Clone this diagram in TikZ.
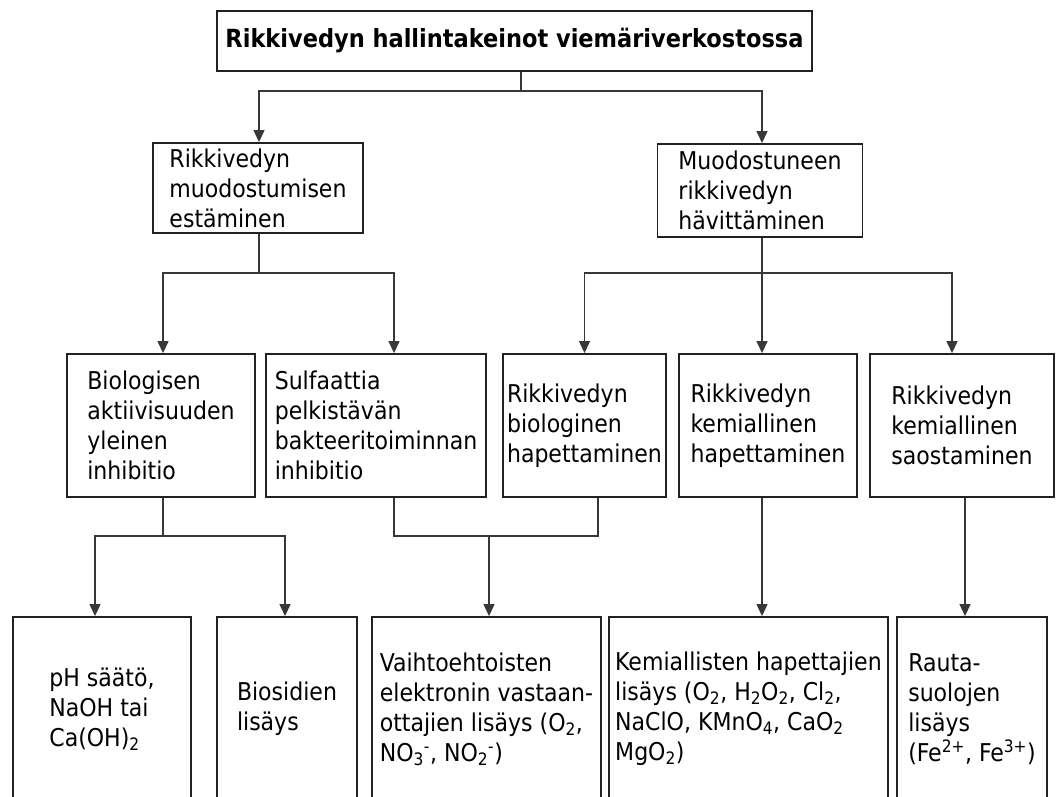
\documentclass[tikz,border=0pt]{standalone}
\usepackage{fontspec}
\setmainfont{DejaVu Sans Condensed}
\usetikzlibrary{arrows.meta}
\definecolor{boxline}{HTML}{222222}
\definecolor{linkline}{HTML}{383838}
\tikzset{
  box/.style={draw=boxline, line width=1.9pt, align=left, inner sep=0pt},
  link/.style={draw=linkline, line width=1.3pt},
  arr/.style={link, -{Triangle[width=11pt,length=12pt]}},
}
\newcommand\chemion[2]{\textsubscript{#1}\textsuperscript{#2}}

\begin{document}
\begin{tikzpicture}[x=1pt, y=-1pt, font=\fontsize{24.5}{30}\selectfont]
    \clip (0,0) rectangle (1056,796);
    \fill[white] (0,0) rectangle (1056,796);

    \node[box, minimum width=595pt, minimum height=60pt, font=\fontsize{25}{30}\selectfont\bfseries] (title) at (514.5,41) {Rikkivedyn hallintakeinot viemäriverkostossa};

    % level 2
    \node[box, minimum width=210pt, minimum height=90pt] (prevent) at (258,188) {Rikkivedyn\\muodostumisen\\estäminen};
    \node[box, minimum width=205pt, minimum height=93pt] (remove) at (760,190.5) {Muodostuneen\\rikkivedyn\\hävittäminen};

    % level 3
    \node[box, minimum width=188pt, minimum height=143pt] (general) at (161,425.5) {Biologisen\\aktiivisuuden\\yleinen\\inhibitio};
    \node[box, minimum width=220pt, minimum height=143pt] (sulfate) at (376,425.5) {Sulfaattia\\pelkistävän\\bakteeritoiminnan\\inhibitio};
    \node[box, minimum width=163pt, minimum height=143pt] (bioox) at (584.5,425.5) {Rikkivedyn\\biologinen\\hapettaminen};
    \node[box, minimum width=178pt, minimum height=143pt] (chemox) at (768,425.5) {Rikkivedyn\\kemiallinen\\hapettaminen};
    \node[box, minimum width=184pt, minimum height=143pt] (precip) at (962,425.5) {Rikkivedyn\\kemiallinen\\saostaminen};

    % level 4, boxes run past the lower edge
    \node[box, minimum width=178pt, minimum height=184pt] (ph) at (102,709) {pH säätö,\\NaOH tai\\Ca(OH)\textsubscript{2}};
    \node[box, minimum width=140pt, minimum height=184pt] (biocide) at (287,709) {Biosidien\\lisäys};
    \node[box, minimum width=229pt, minimum height=184pt] (acceptor) at (486.5,709) {Vaihtoehtoisten\\elektronin vastaan-\\ottajien lisäys (O\textsubscript{2},\\NO\chemion{3}{-}, NO\chemion{2}{-})};
    \node[box, minimum width=279pt, minimum height=184pt] (oxidant) at (748.5,709) {Kemiallisten hapettajien\\lisäys (O\textsubscript{2}, H\textsubscript{2}O\textsubscript{2}, Cl\textsubscript{2},\\NaClO, KMnO\textsubscript{4}, CaO\textsubscript{2}\\MgO\textsubscript{2})};
    \node[box, minimum width=150pt, minimum height=184pt] (iron) at (972,709) {Rauta-\\suolojen\\lisäys\\(Fe\textsuperscript{2+}, Fe\textsuperscript{3+})};

    % connectors
    \coordinate (j0) at (521,91);
    \draw[link] (title.south -| j0) -- (j0);
    \draw[arr] (j0) -| ([xshift=1pt]prevent.north);
    \draw[arr] (j0) -| ([xshift=2pt]remove.north);

    \coordinate (j1) at (259,273);
    \draw[link] (prevent.south -| j1) -- (j1);
    \draw[arr] (j1) -| ([xshift=2pt]general.north);
    \draw[arr] (j1) -| ([xshift=18pt]sulfate.north);

    \coordinate (j2) at (762,273);
    \draw[link] (remove.south -| j2) -- (j2);
    \draw[arr] (j2) -| (bioox.north);
    \draw[arr] (j2) -- (j2 |- chemox.north);
    \draw[arr] (j2) -| ([xshift=-10pt]precip.north);

    \coordinate (j3) at (163,536);
    \draw[link] (general.south -| j3) -- (j3);
    \draw[arr] (j3) -| ([xshift=-7pt]ph.north);
    \draw[arr] (j3) -| ([xshift=-2pt]biocide.north);

    \coordinate (j4) at (489,536);
    \draw[link] ([xshift=18pt]sulfate.south) |- (j4) -| ([xshift=13.5pt]bioox.south);
    \draw[arr] (j4) -- (j4 |- acceptor.north);

    \draw[arr] (j2 |- chemox.south) -- (j2 |- oxidant.north);
    \coordinate (j5) at (965,536);
    \draw[arr] (precip.south -| j5) -- (j5 |- iron.north);
\end{tikzpicture}
\end{document}
